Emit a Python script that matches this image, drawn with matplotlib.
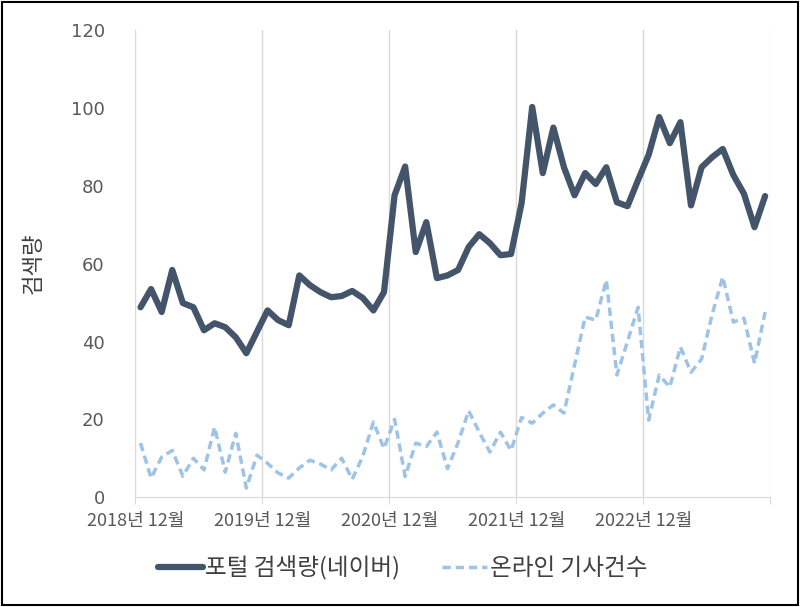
import matplotlib.pyplot as plt
import numpy as np
from matplotlib.patches import Rectangle

plt.rcParams['font.family'] = ['Noto Sans CJK KR', 'DejaVu Sans']

# monthly values, 2018-12 .. 2023-11
search = [48.8, 53.5, 47.6, 58.4, 49.9, 48.8, 42.9, 44.7, 43.7, 41.1, 37.0, 42.5,
          48.0, 45.5, 44.2, 57.0, 54.5, 52.7, 51.4, 51.7, 53.0, 51.2, 48.0, 52.7,
          77.6, 85.0, 63.0, 70.7, 56.3, 57.0, 58.4, 64.3, 67.6, 65.3, 62.2, 62.5,
          75.6, 100.3, 83.3, 95.0, 84.8, 77.6, 83.3, 80.5, 84.8, 75.8, 74.8, 81.5,
          88.0, 97.7, 91.0, 96.4, 75.0, 84.8, 87.4, 89.5, 82.8, 78.0, 69.4, 77.4]
articles = [13.9, 4.9, 10.3, 12.0, 5.4, 10.0, 7.0, 18.0, 6.4, 16.4, 2.3, 10.8,
            8.7, 6.2, 4.9, 7.5, 9.5, 8.5, 7.0, 10.0, 4.6, 10.5, 19.3, 12.5,
            20.0, 5.3, 13.9, 13.0, 16.7, 7.3, 14.0, 22.2, 16.7, 11.6, 16.7, 12.0,
            20.5, 19.0, 21.6, 23.7, 21.6, 34.0, 46.3, 45.5, 55.8, 31.4, 40.0, 48.8,
            19.8, 31.4, 28.3, 38.6, 32.1, 35.5, 47.0, 56.6, 45.0, 46.0, 34.4, 47.6]
tick_labels = ["2018년 12월", "2019년 12월", "2020년 12월", "2021년 12월", "2022년 12월", ""]

fig = plt.figure(figsize=(8, 6.07), dpi=100)
ax = fig.add_axes([0.169, 0.181, 0.794, 0.769])

x = np.arange(len(search)) + 0.5
ax.plot(x, search, color='#44546A', lw=4.5, solid_joinstyle='round',
        solid_capstyle='round', label='포털 검색량(네이버)')
ax.plot(x, articles, color='#9DC3E6', lw=2.5, dashes=(2.4, 1.4),
        label='온라인 기사건수')

ax.set_xlim(0, 60)
ax.set_ylim(0, 120)
ax.set_xticks(range(0, 61, 12))
ax.set_xticklabels(tick_labels)
ax.set_yticks(range(0, 121, 20))
for t in ax.get_yticklabels():
    t.set_family('DejaVu Sans')

for s in ['top', 'right', 'left']:
    ax.spines[s].set_visible(False)
ax.spines['bottom'].set_color('#D9D9D9')
ax.grid(axis='x', color='#D9D9D9', lw=1)
ax.set_axisbelow(True)
ax.tick_params(axis='y', length=0, pad=22, labelsize=13, labelcolor='#595959')
ax.tick_params(axis='x', length=5, color='#D9D9D9', direction='out', pad=6,
               labelsize=13, labelcolor='#595959')

ax.set_ylabel('검색량', fontsize=16, color='#404040')
ax.yaxis.set_label_coords(-0.142, 0.5)

fig.legend(loc='center', bbox_to_anchor=(0.503, 0.064), ncol=2, frameon=False,
           fontsize=17, handlelength=1.9, handletextpad=0.1, columnspacing=1.8,
           labelcolor='#404040')

fig.add_artist(Rectangle((0.002, 0.003), 0.996, 0.994, transform=fig.transFigure,
                         fill=False, ec='black', lw=1.5))

fig.savefig('out.png', dpi=100)
